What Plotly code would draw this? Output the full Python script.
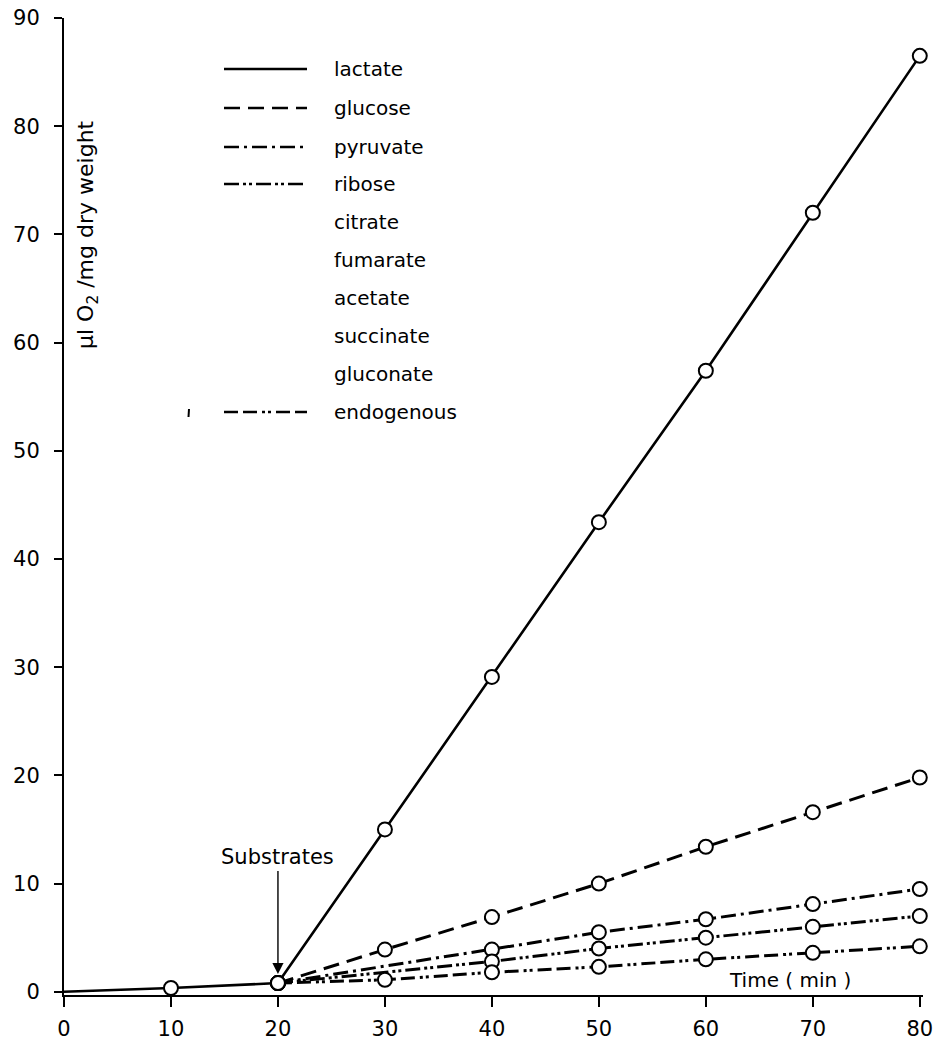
import plotly.graph_objects as go

# ---- data ----
time_lactate = [0, 10, 20, 30, 40, 50, 60, 70, 80]
lactate = [0, 0.35, 0.8, 15.0, 29.1, 43.4, 57.4, 72.0, 86.5]

time_glucose = [20, 30, 40, 50, 60, 70, 80]
glucose = [0.8, 3.9, 6.9, 10.0, 13.4, 16.6, 19.8]

time_pyruvate = [20, 40, 50, 60, 70, 80]
pyruvate = [0.8, 3.9, 5.5, 6.7, 8.1, 9.5]

time_ribose = [20, 40, 50, 60, 70, 80]
ribose = [0.8, 2.8, 4.0, 5.0, 6.0, 7.0]

time_endogenous = [20, 30, 40, 50, 60, 70, 80]
endogenous = [0.8, 1.1, 1.8, 2.3, 3.0, 3.6, 4.2]

x_ticks = [0, 10, 20, 30, 40, 50, 60, 70, 80]
y_ticks = [0, 10, 20, 30, 40, 50, 60, 70, 80, 90]

legend_labels = ["lactate", "glucose", "pyruvate", "ribose", "citrate",
                 "fumarate", "acetate", "succinate", "gluconate", "endogenous"]

# ---- styling ----
W, H = 945, 1044
ML, MR, MT, MB = 64, 22, 18, 49
PW, PH = W - ML - MR, H - MT - MB
FONT = "DejaVu Sans, sans-serif"

DASH = {
    "lactate": "solid",
    "glucose": "16px,8px",
    "pyruvate": "15px,5px,3px,5px",
    "ribose": "15px,4px,3px,3px,3px,4px",
    "endogenous": "14px,5px,14px,5px,3px,3px,3px,5px",
}


def px(xp):
    return (xp - ML) / PW


def py(yp):
    return 1 - (yp - MT) / PH


fig = go.Figure()

series = [
    ("lactate", time_lactate, lactate, 2.6),
    ("glucose", time_glucose, glucose, 3),
    ("pyruvate", time_pyruvate, pyruvate, 3),
    ("ribose", time_ribose, ribose, 3),
    ("endogenous", time_endogenous, endogenous, 3),
]

for name, xs, ys, w in series:
    fig.add_trace(go.Scatter(x=xs, y=ys, mode="lines", name=name,
                             line=dict(color="black", width=w, dash=DASH[name]),
                             showlegend=False, cliponaxis=False))

for name, xs, ys, w in series:
    mx = [v for v in xs if v != 0]
    my = [ys[i] for i, v in enumerate(xs) if v != 0]
    fig.add_trace(go.Scatter(x=mx, y=my, mode="markers", name=name,
                             marker=dict(symbol="circle", size=14, color="white",
                                         line=dict(color="black", width=2)),
                             showlegend=False, cliponaxis=False))

shapes = []
annotations = []

# legend drawn as a key
row_y = [69, 108, 147, 184, 222, 260, 298, 336, 374, 412]
sample_style = {0: "lactate", 1: "glucose", 2: "pyruvate", 3: "ribose", 9: "endogenous"}
for i, lab in enumerate(legend_labels):
    annotations.append(dict(x=px(332), y=py(row_y[i]), xref="paper", yref="paper",
                            text=lab, showarrow=False, xanchor="left", yanchor="middle",
                            font=dict(family=FONT, size=20, color="black")))
    if i in sample_style:
        shapes.append(dict(type="line", xref="paper", yref="paper",
                           x0=px(224), x1=px(307), y0=py(row_y[i]), y1=py(row_y[i]),
                           line=dict(color="black", width=2.6, dash=DASH[sample_style[i]])))

# small stray mark near endogenous key
shapes.append(dict(type="line", xref="paper", yref="paper",
                   x0=px(189), x1=px(188.5), y0=py(409), y1=py(417),
                   line=dict(color="black", width=2)))

# y-axis title
annotations.append(dict(x=px(87), y=py(235), xref="paper", yref="paper",
                        text="µl O<sub>2</sub> /mg dry weight", showarrow=False,
                        textangle=-90, xanchor="center", yanchor="middle",
                        font=dict(family=FONT, size=22, color="black")))

# Substrates arrow
annotations.append(dict(x=20, y=0.8, xref="x", yref="y", ax=0, ay=-112,
                        axref="pixel", ayref="pixel",
                        text="Substrates", showarrow=True, arrowhead=2, arrowsize=1.6,
                        arrowwidth=1.4, arrowcolor="black", standoff=9,
                        yanchor="bottom",
                        font=dict(family=FONT, size=21, color="black")))

# Time (min) label
annotations.append(dict(x=px(790), y=py(980), xref="paper", yref="paper",
                        text="Time ( min )", showarrow=False,
                        xanchor="center", yanchor="middle",
                        font=dict(family=FONT, size=20, color="black")))

fig.update_layout(
    width=W, height=H,
    margin=dict(l=ML, r=MR, t=MT, b=MB, pad=0, autoexpand=False),
    paper_bgcolor="white", plot_bgcolor="white",
    showlegend=False,
    shapes=shapes, annotations=annotations,
    font=dict(family=FONT, size=22, color="black"),
)

fig.update_xaxes(range=[0, 80.3], tickvals=x_ticks, ticktext=[str(v) for v in x_ticks],
                 showgrid=False, zeroline=False, showline=True, linecolor="black",
                 linewidth=2, ticks="outside", ticklen=10, tickwidth=1.5,
                 tickcolor="black", tickfont=dict(family=FONT, size=21),
                 ticklabelstandoff=4, automargin=False)
fig.update_yaxes(range=[-0.3, 90], tickvals=y_ticks, ticktext=[str(v) for v in y_ticks],
                 showgrid=False, zeroline=False, showline=True, linecolor="black",
                 linewidth=2, ticks="outside", ticklen=8, tickwidth=1.5,
                 tickcolor="black", tickfont=dict(family=FONT, size=21),
                 ticklabelstandoff=10, automargin=False)

fig.write_html("out.html")
